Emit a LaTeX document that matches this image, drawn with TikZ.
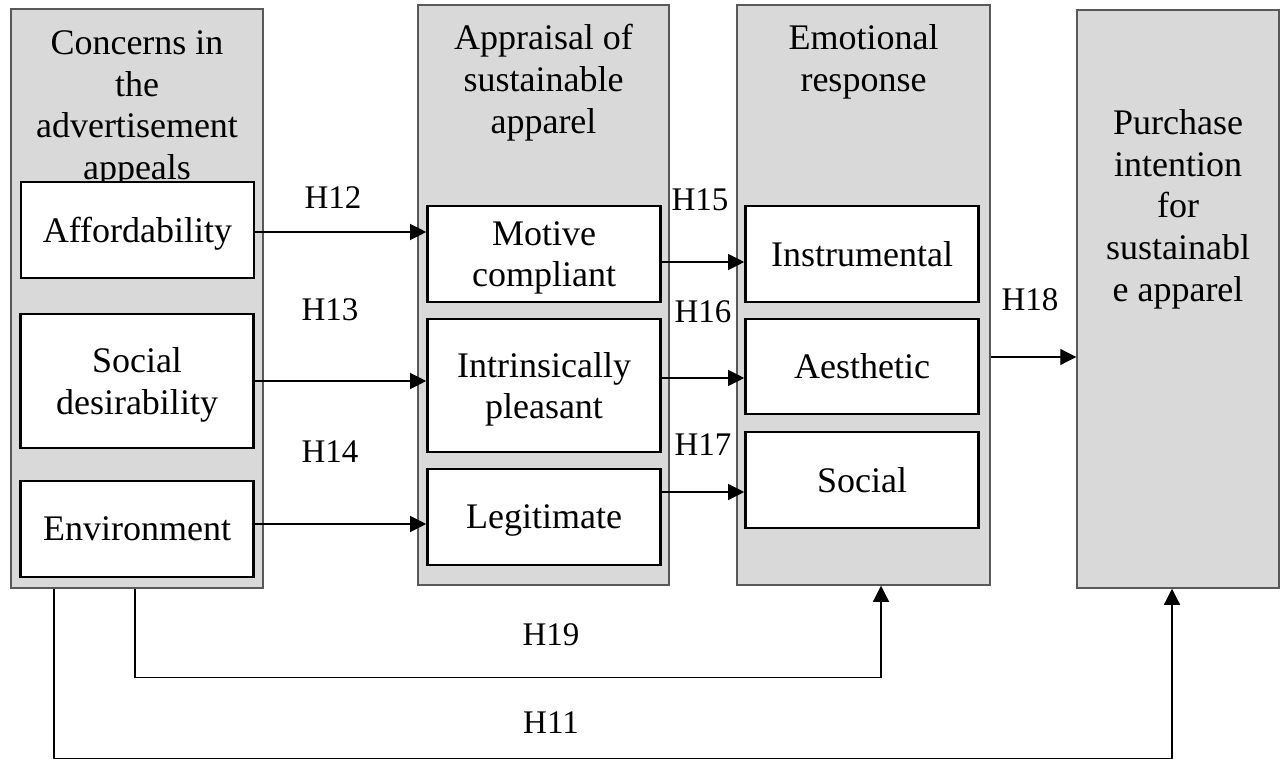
\documentclass[tikz,border=0pt]{standalone}
\usepackage{fontspec}
\setmainfont{Liberation Serif}
\usetikzlibrary{arrows.meta}
\begin{document}
\begin{tikzpicture}[x=0.5pt, y=-0.5pt, font=\fontsize{18}{20.8}\selectfont,
    group/.style={draw=black!65, fill=black!15, line width=0.75pt, inner sep=0},
    item/.style={draw, fill=white, line width=1.3pt, align=center, minimum width=116.5pt, inner sep=0, text depth=0pt},
    head/.style={align=center, anchor=north, inner sep=0},
    hyp/.style={font=\fontsize{16.5}{19}\selectfont},
    arr/.style={-{Triangle[length=8pt,width=8pt]}, line width=0.6pt}]
  \useasboundingbox (0,0) rectangle (1280,759);
  % the four groups
  \node[group, minimum width=126pt, minimum height=289.5pt] (grp1) at (137,298.5) {};
  \node[group, minimum width=125.5pt, minimum height=290pt] (grp2) at (543.5,295) {};
  \node[group, minimum width=126.5pt, minimum height=290pt] (grp3) at (863.5,295) {};
  \node[group, minimum width=101pt, minimum height=289pt] (grp4) at (1178,299) {};
  \node[head] (t1) at ([yshift=-11pt]grp1.north) {Concerns in\\the\\advertisement\\appeals};
  \node[head] (t2) at ([yshift=-10pt]grp2.north) {Appraisal of\\sustainable\\apparel};
  \node[head] (t3) at ([yshift=-10pt]grp3.north) {Emotional\\response};
  \node[head] (t4) at ([yshift=-50pt]grp4.north) {Purchase\\intention\\for\\sustainabl\\e apparel};
  % items
  \node[item, minimum height=48pt] (aff) at (137.5,230) {Affordability};
  \node[item, minimum height=67pt] (soc) at (137,381) {Social\\desirability};
  \node[item, minimum height=48pt] (env) at (137,529) {Environment};
  \node[item, minimum height=48pt] (mot) at (544,254) {Motive\\compliant};
  \node[item, minimum height=66.5pt] (intr) at (544,385.5) {Intrinsically\\pleasant};
  \node[item, minimum height=48pt] (leg) at (544,517) {Legitimate};
  \node[item, minimum height=48pt] (ins) at (862,254) {Instrumental};
  \node[item, minimum height=47.5pt] (aes) at (862,366.5) {Aesthetic};
  \node[item, minimum height=48pt] (scl) at (862,480) {Social};
  % paths
  \foreach \a/\b/\s in {aff/mot/-1pt, soc/intr/0pt, env/leg/2.5pt, mot/ins/-4pt, intr/aes/3.75pt, leg/scl/12.5pt, grp3/grp4/-31pt}
    \draw[arr] ([yshift=\s]\a.east) -- ([yshift=\s]\a.east -| \b.west);
  \draw[arr] ([xshift=-1pt]grp1.south) -- ++(0,89) -| ([xshift=8.75pt]grp3.south);
  \draw[arr] ([xshift=-41.5pt]grp1.south) -- ++(0,170) -| ([xshift=-3pt]grp4.south);
  \foreach \t/\x/\y in {H12/333/198, H13/330/310, H14/330/452, H15/700/200, H16/703/312, H17/703/445, H18/1030/300, H19/551/635, H11/551/723}
    \node[hyp] (\t) at (\x,\y) {\t};
\end{tikzpicture}
\end{document}
